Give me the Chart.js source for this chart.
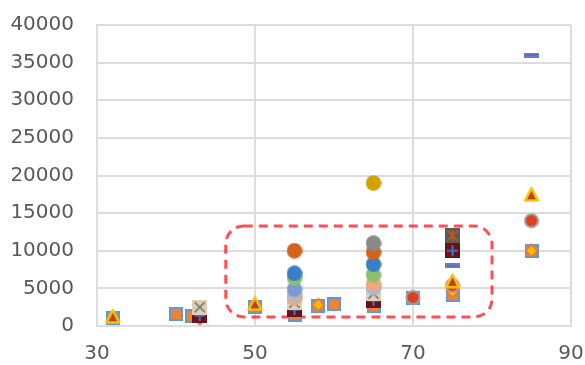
<!DOCTYPE html>
<html>
<head>
<meta charset="utf-8">
<script src="https://cdn.jsdelivr.net/npm/chart.js@4.4.1/dist/chart.umd.min.js"></script>
<style>
  html, body { margin: 0; padding: 0; background: #fff; }
  #chart-wrap { width: 585px; height: 365px; }
</style>
</head>
<body>
<div id="chart-wrap"><canvas id="scatter-chart"></canvas></div>
<script>
// axis ticks
const xTicks = [30, 50, 70, 90];
const yTicks = [0, 5000, 10000, 15000, 20000, 25000, 30000, 35000, 40000];

// series values (x, y)
const squareX = [32, 40, 42, 50, 55, 58, 60, 65, 70, 75, 85];
const squareY = [1000, 1600, 1300, 2500, 1500, 2700, 2900, 2600, 3700, 4100, 10000];
const diamondX = [43, 55, 58, 65, 75, 85];
const diamondY = [1000, 1800, 2800, 2900, 4600, 10000];
const plusX = [43, 55, 65, 75];
const plusY = [1400, 2200, 3400, 10000];
const crossX = [43, 55, 65];
const crossY = [2500, 3100, 4300];
const redDotX = [70, 75, 85];
const redDotY = [3800, 5400, 14000];
const triangleX = [32, 50, 75, 85];
const triangleY = [1300, 3000, 6000, 17500];
const paleBlueX = [65];
const paleBlueY = [5100];
const salmonX = [55, 65];
const salmonY = [3700, 5600];
const lightGrayX = [55];
const lightGrayY = [4100];
const periwinkleX = [55];
const periwinkleY = [4900];
const greenX = [55, 65];
const greenY = [6400, 6800];
const blueX = [55, 65];
const blueY = [7000, 8200];
const orangeX = [55, 65];
const orangeY = [10000, 9800];
const grayX = [65];
const grayY = [11000];
const goldX = [65];
const goldY = [19000];
const starX = [75];
const starY = [12000];
const dashX = [75, 85];
const dashY = [8000, 36000];

function pts(xs, ys) {
  return xs.map((x, i) => ({ x: x, y: ys[i] }));
}

// small canvases used as point styles
function makeMarker(kind, fill, stroke) {
  const c = document.createElement('canvas');
  const g = c.getContext('2d');
  if (kind === 'square') {
    c.width = 14; c.height = 14;
    g.fillStyle = fill; g.fillRect(1, 1, 12, 12);
    g.strokeStyle = stroke; g.lineWidth = 2; g.strokeRect(1, 1, 12, 12);
  } else if (kind === 'diamond') {
    c.width = 15; c.height = 15;
    g.beginPath();
    g.moveTo(7.5, 1.5); g.lineTo(13.5, 7.5); g.lineTo(7.5, 13.5); g.lineTo(1.5, 7.5);
    g.closePath();
    g.fillStyle = fill; g.fill();
    g.strokeStyle = stroke; g.lineWidth = 2; g.lineJoin = 'round'; g.stroke();
  } else if (kind === 'triangle') {
    c.width = 17; c.height = 16;
    g.beginPath();
    g.moveTo(8.5, 1.8); g.lineTo(15, 14.3); g.lineTo(2, 14.3);
    g.closePath();
    g.fillStyle = fill; g.fill();
    g.strokeStyle = stroke; g.lineWidth = 2.5; g.lineJoin = 'round'; g.stroke();
  } else if (kind === 'dot') {
    c.width = 16; c.height = 16;
    g.beginPath(); g.arc(8, 8, stroke ? 6.6 : 7.8, 0, Math.PI * 2);
    g.fillStyle = fill; g.fill();
    if (stroke) { g.strokeStyle = stroke; g.lineWidth = 2; g.stroke(); }
  } else if (kind === 'crossBox' || kind === 'starBox' || kind === 'plusBox') {
    c.width = 15; c.height = 15;
    g.fillStyle = fill; g.fillRect(0, 0, 15, 15);
    g.strokeStyle = stroke;
    g.lineWidth = kind === 'plusBox' ? 2 : 1.5;
    g.beginPath();
    if (kind !== 'plusBox') {
      g.moveTo(2.5, 2.5); g.lineTo(12.5, 12.5);
      g.moveTo(12.5, 2.5); g.lineTo(2.5, 12.5);
    }
    if (kind !== 'crossBox') {
      g.moveTo(7.5, 2); g.lineTo(7.5, 13);
    }
    if (kind === 'plusBox') {
      g.moveTo(2, 7.5); g.lineTo(13, 7.5);
    }
    g.stroke();
  } else if (kind === 'dash') {
    c.width = 15; c.height = 5;
    g.fillStyle = fill; g.fillRect(0, 0, 15, 5);
    g.strokeStyle = stroke; g.lineWidth = 1;
    g.beginPath(); g.moveTo(2, 2.5); g.lineTo(13, 2.5); g.stroke();
  }
  return c;
}

// rounded dashed outline around the middle cluster
const highlightBox = {
  id: 'highlightBox',
  beforeDatasetsDraw(chart) {
    const { ctx, scales: { x, y } } = chart;
    const left = x.getPixelForValue(46.3);
    const right = x.getPixelForValue(80);
    const top = y.getPixelForValue(13300);
    const bottom = y.getPixelForValue(1200);
    ctx.save();
    ctx.strokeStyle = 'rgba(255, 10, 20, 0.72)';
    ctx.lineWidth = 3;
    ctx.setLineDash([9, 6]);
    ctx.beginPath();
    ctx.roundRect(left, top, right - left, bottom - top, 18);
    ctx.stroke();
    ctx.restore();
  }
};

document.addEventListener('DOMContentLoaded', () => {
  // listed bottom layer first
  const layers = [
    { data: pts(squareX, squareY), marker: makeMarker('square', '#F0832E', '#5B9BD5') },
    { data: pts(diamondX, diamondY), marker: makeMarker('diamond', '#FFC000', '#ED7D31') },
    { data: pts(plusX, plusY), marker: makeMarker('plusBox', '#6E0F1C', '#3D78C6') },
    { data: pts(crossX, crossY), marker: makeMarker('crossBox', '#DCCFB4', '#6E6E6E') },
    { data: pts(redDotX, redDotY), marker: makeMarker('dot', '#DD4020', '#A0A0A0') },
    { data: pts(triangleX, triangleY), marker: makeMarker('triangle', '#B5422A', '#FFC000') },
    { data: pts(paleBlueX, paleBlueY), marker: makeMarker('dot', '#9DB8E2') },
    { data: pts(salmonX, salmonY), marker: makeMarker('dot', '#F3A67E') },
    { data: pts(lightGrayX, lightGrayY), marker: makeMarker('dot', '#B8B8B8') },
    { data: pts(periwinkleX, periwinkleY), marker: makeMarker('dot', '#7C98D6') },
    { data: pts(greenX, greenY), marker: makeMarker('dot', '#8DC06C') },
    { data: pts(blueX, blueY), marker: makeMarker('dot', '#3A7EC5') },
    { data: pts(orangeX, orangeY), marker: makeMarker('dot', '#D2621C') },
    { data: pts(grayX, grayY), marker: makeMarker('dot', '#8A8A8A') },
    { data: pts(goldX, goldY), marker: makeMarker('dot', '#D4A200') },
    { data: pts(starX, starY), marker: makeMarker('starBox', '#5A5A5A', '#C65B14') },
    { data: pts(dashX, dashY), marker: makeMarker('dash', '#5B80CF', '#9C3FA6') }
  ];

  // Chart.js paints dataset 0 last, so flip the list
  const datasets = layers.slice().reverse().map(l => ({
    data: l.data,
    pointStyle: l.marker,
    pointRadius: 7,
    pointHoverRadius: 7,
    showLine: false
  }));

  const gridColor = '#dcdcdc';
  const tickFont = { family: 'DejaVu Sans', size: 20 };

  new Chart(document.getElementById('scatter-chart').getContext('2d'), {
    type: 'scatter',
    data: { datasets: datasets },
    options: {
      responsive: true,
      maintainAspectRatio: false,
      animation: false,
      layout: { padding: { top: 25, left: 11, right: 14, bottom: 1 } },
      plugins: { legend: { display: false }, tooltip: { enabled: false } },
      scales: {
        x: {
          type: 'linear',
          min: xTicks[0],
          max: xTicks[xTicks.length - 1],
          afterBuildTicks: axis => { axis.ticks = xTicks.map(v => ({ value: v })); },
          afterFit: axis => {
            axis.height = 38;
            axis.paddingLeft = 0;
            axis.paddingRight = 0;
          },
          grid: { color: gridColor, lineWidth: 2, drawTicks: false },
          border: { color: gridColor, width: 2 },
          ticks: { color: '#595959', font: tickFont, padding: 16, maxRotation: 0 }
        },
        y: {
          type: 'linear',
          min: yTicks[0],
          max: yTicks[yTicks.length - 1],
          afterBuildTicks: axis => { axis.ticks = yTicks.map(v => ({ value: v })); },
          afterFit: axis => {
            axis.width = 86;
            axis.paddingTop = 0;
            axis.paddingBottom = 0;
          },
          grid: { color: gridColor, lineWidth: 2, drawTicks: false },
          border: { color: gridColor, width: 2 },
          ticks: { color: '#595959', font: tickFont, padding: 23, callback: v => String(v) }
        }
      }
    },
    plugins: [highlightBox]
  });
});
</script>
</body>
</html>
